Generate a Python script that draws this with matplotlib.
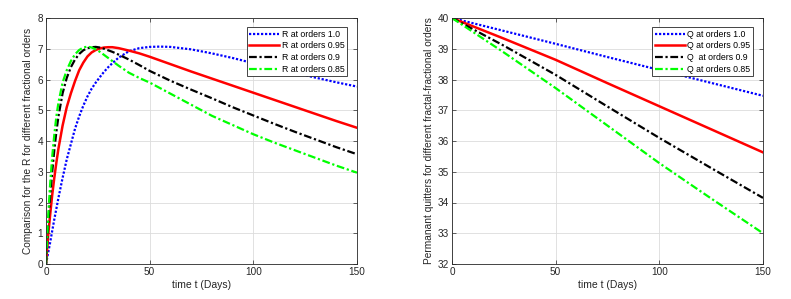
import numpy as np
import matplotlib
matplotlib.use('Agg')
import matplotlib.pyplot as plt

plt.rcParams['font.family'] = ['Liberation Sans', 'DejaVu Sans']

# ==================== data ====================
t_r = [0, 1, 2, 3, 4, 5, 6, 8, 10, 12, 14, 16, 18, 20, 22, 24, 26, 28, 30, 32,
       35, 40, 45, 50, 55, 60, 70, 80, 90, 100, 110, 120, 130, 140, 150]
r_10 = [0, 0.35, 0.7, 1.08, 1.45, 1.8, 2.15, 2.8, 3.4, 3.9, 4.4, 4.8, 5.15, 5.45, 5.7,
        5.9, 6.08, 6.25, 6.4, 6.53, 6.71, 6.92, 7.02, 7.06, 7.07, 7.06, 6.98, 6.85, 6.7, 6.53,
        6.37, 6.22, 6.06, 5.91, 5.77]
r_095 = [0, 0.9, 1.6, 2.25, 2.8, 3.3, 3.75, 4.5, 5.1, 5.55, 5.95, 6.3, 6.55, 6.75, 6.88,
         6.96, 7.01, 7.04, 7.05, 7.05, 7.02, 6.94, 6.85, 6.74, 6.62, 6.5, 6.26, 6.03, 5.8, 5.57,
         5.34, 5.11, 4.88, 4.65, 4.43]
r_09 = [0, 1.2, 2.2, 3.0, 3.7, 4.3, 4.8, 5.55, 6.05, 6.4, 6.65, 6.83, 6.95, 7.02, 7.05,
        7.06, 7.04, 7.0, 6.95, 6.9, 6.81, 6.65, 6.47, 6.28, 6.12, 5.96, 5.67, 5.39, 5.1, 4.83,
        4.56, 4.3, 4.05, 3.8, 3.57]
r_085 = [0, 1.5, 2.6, 3.5, 4.2, 4.8, 5.25, 5.9, 6.3, 6.6, 6.82, 6.96, 7.04, 7.07, 7.04,
         6.98, 6.9, 6.8, 6.7, 6.6, 6.45, 6.22, 6.05, 5.9, 5.72, 5.54, 5.18, 4.82, 4.52, 4.22,
         3.95, 3.7, 3.45, 3.2, 2.97]

t_q = [0, 25, 50, 75, 100, 125, 150]
q_10 = [40, 39.58, 39.16, 38.73, 38.31, 37.89, 37.47]
q_095 = [40, 39.33, 38.64, 37.88, 37.13, 36.38, 35.63]
q_09 = [40, 39.1, 38.15, 37.12, 36.1, 35.12, 34.15]
q_085 = [40, 38.88, 37.72, 36.5, 35.28, 34.13, 33.0]

r_labels = ['R at orders 1.0', 'R at orders 0.95', 'R at orders 0.9', 'R at orders 0.85']
q_labels = ['Q at orders 1.0', 'Q at orders 0.95', 'Q  at orders 0.9', 'Q at orders 0.85']

styles = [dict(color='#0000ff', linestyle=(0, (1, 0.8)), linewidth=1.6),
          dict(color='#ff0000', linestyle='-', linewidth=1.8),
          dict(color='#000000', linestyle=(0, (3.5, 1.2, 1, 1.2)), linewidth=1.6),
          dict(color='#00ff00', linestyle=(0, (3.5, 1.2, 1, 1.2)), linewidth=1.6)]

# ==================== plot ====================
fig = plt.figure(figsize=(7.91, 2.99), dpi=100)
ax1 = fig.add_axes([46 / 791, 1 - 264 / 299, 311 / 791, 246 / 299])
ax2 = fig.add_axes([452 / 791, 1 - 264 / 299, 311 / 791, 246 / 299])


def style_axes(ax):
    ax.grid(True, color='#dcdcdc', linewidth=0.6)
    ax.set_axisbelow(True)
    ax.tick_params(direction='in', length=3, width=0.5, top=True, right=True,
                   labelsize=7.2, colors='#262626', pad=2)
    for sp in ax.spines.values():
        sp.set_color('#262626')
        sp.set_linewidth(0.6)


for ys, st, lab in zip([r_10, r_095, r_09, r_085], styles, r_labels):
    ax1.plot(t_r, ys, label=lab, **st)
ax1.set_xlim(0, 150)
ax1.set_ylim(0, 8)
ax1.set_xticks([0, 50, 100, 150])
ax1.set_yticks(range(0, 9))
style_axes(ax1)
ax1.set_xlabel('time t (Days)', fontsize=7.5, color='#262626', labelpad=2)
ax1.set_ylabel('Comparison for the R for different fractional orders', fontsize=7.3,
               color='#262626', labelpad=3)

for ys, st, lab in zip([q_10, q_095, q_09, q_085], styles, q_labels):
    ax2.plot(t_q, ys, label=lab, **st)
ax2.set_xlim(0, 150)
ax2.set_ylim(32, 40)
ax2.set_xticks([0, 50, 100, 150])
ax2.set_yticks(range(32, 41))
style_axes(ax2)
ax2.set_xlabel('time t (Days)', fontsize=7.5, color='#262626', labelpad=2)
ax2.set_ylabel('Permanant quitters for different fractal-fractional orders', fontsize=7.3,
               color='#262626', labelpad=3)

for ax in [ax1, ax2]:
    leg = ax.legend(loc='upper right', bbox_to_anchor=(0.968, 0.963), fontsize=6.3,
                    handlelength=3.4, handletextpad=0.3, labelspacing=0.3,
                    borderpad=0.3, borderaxespad=0, fancybox=False, framealpha=1)
    leg.get_frame().set_edgecolor('#262626')
    leg.get_frame().set_linewidth(0.6)

plt.savefig('out.png', dpi=100)
